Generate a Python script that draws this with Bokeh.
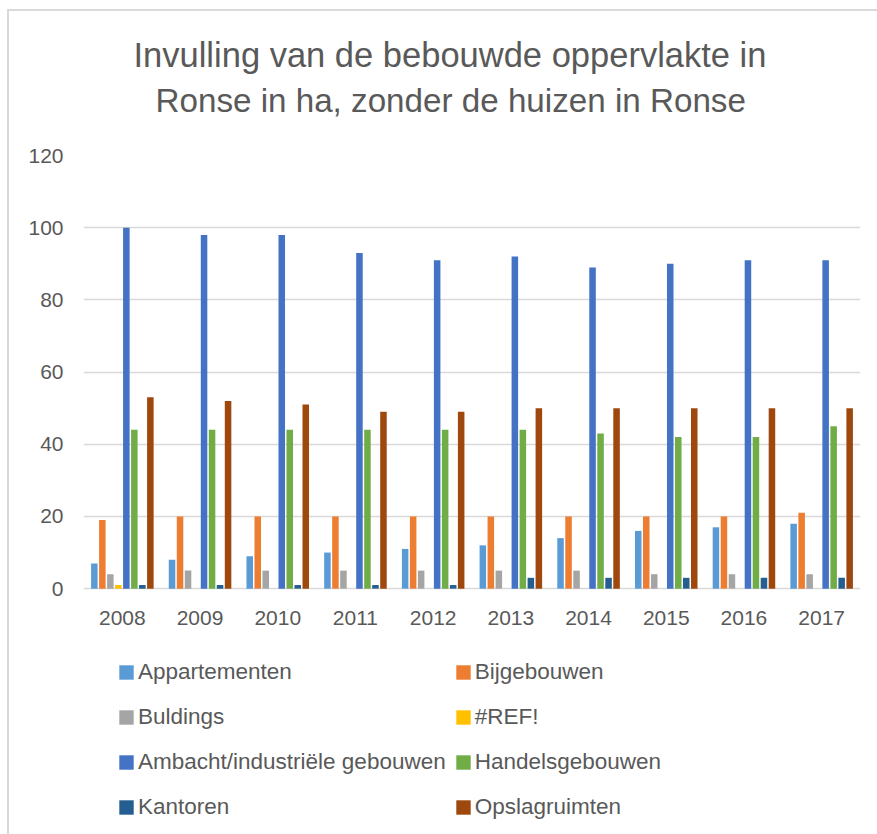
from bokeh.plotting import figure
from bokeh.models import ColumnDataSource, FactorRange, Range1d, Legend, LegendItem, Title, FixedTicker
from bokeh.transform import dodge
from bokeh.embed import file_html
from bokeh.resources import INLINE

years = ["2008", "2009", "2010", "2011", "2012", "2013", "2014", "2015", "2016", "2017"]
appartementen = [7, 8, 9, 10, 11, 12, 14, 16, 17, 18]
bijgebouwen = [19, 20, 20, 20, 20, 20, 20, 20, 20, 21]
buldings = [4, 5, 5, 5, 5, 5, 5, 4, 4, 4]
ref_err = [1, 0, 0, 0, 0, 0, 0, 0, 0, 0]
ambacht = [100, 98, 98, 93, 91, 92, 89, 90, 91, 91]
handels = [44, 44, 44, 44, 44, 44, 43, 42, 42, 45]
kantoren = [1, 1, 1, 1, 1, 3, 3, 3, 3, 3]
opslag = [53, 52, 51, 49, 49, 50, 50, 50, 50, 50]

series_names = ["Appartementen", "Bijgebouwen", "Buldings", "#REF!",
                "Ambacht/industriële gebouwen", "Handelsgebouwen", "Kantoren", "Opslagruimten"]
series_keys = ["app", "bij", "bul", "ref", "amb", "han", "kan", "ops"]
series_values = [appartementen, bijgebouwen, buldings, ref_err, ambacht, handels, kantoren, opslag]
colors = ["#5B9BD5", "#ED7D31", "#A5A5A5", "#FFC000", "#4472C4", "#70AD47", "#255E91", "#9E480E"]
y_ticks = [0, 20, 40, 60, 80, 100, 120]

data = {"year": years}
for k, v in zip(series_keys, series_values):
    data[k] = v
source = ColumnDataSource(data)

FONT = "Liberation Sans"
GREY = "#595959"

# the frame extends below 0 so that the legend (drawn inside it) is not clipped
p = figure(frame_width=777, frame_height=675, x_range=FactorRange(*years, range_padding=0),
           y_range=Range1d(-67, 120), output_backend="svg", toolbar_location=None,
           min_border_left=74, min_border_right=17, min_border_top=144, min_border_bottom=4)
p.x_range.range_padding = 0
p.outline_line_color = None
p.background_fill_color = "white"
p.border_fill_color = "white"
p.styles = {"margin-left": "7px", "margin-top": "9px",
            "border-left": "2px solid #d9d9d9", "border-top": "2px solid #d9d9d9"}

pitch = 0.103
renderers = []
for i, (k, c) in enumerate(zip(series_keys, colors)):
    off = (i - 3.5) * pitch
    r = p.vbar(x=dodge("year", off, range=p.x_range), top=k, width=0.084,
               source=source, fill_color=c, line_color=None)
    renderers.append(r)

# grid & axes
p.xgrid.grid_line_color = None
p.ygrid.grid_line_color = "#d9d9d9"
p.ygrid.grid_line_width = 1.5
p.yaxis.ticker = FixedTicker(ticks=y_ticks)
p.xaxis.fixed_location = 0
for ax in (p.xaxis[0], p.yaxis[0]):
    ax.axis_line_color = None
    ax.major_tick_line_color = None
    ax.minor_tick_line_color = None
    ax.major_tick_out = 0
    ax.major_tick_in = 0
    ax.major_label_text_font = FONT
    ax.major_label_text_font_size = "21px"
    ax.major_label_text_color = GREY
p.yaxis.major_label_standoff = 20
p.xaxis.major_label_standoff = 22

# title (two lines)
t2 = Title(text="Ronse in ha, zonder de huizen in Ronse", align="left", offset=72,
           text_font=FONT, text_font_size="33.2px", text_font_style="normal",
           text_color=GREY, standoff=74)
t1 = Title(text="Invulling van de bebouwde oppervlakte in", align="left", offset=50,
           text_font=FONT, text_font_size="34.5px", text_font_style="normal",
           text_color=GREY, standoff=-62)
p.add_layout(t2, "above")
p.add_layout(t1, "above")

# legend: two columns, column-major order
order = [0, 2, 4, 6, 1, 3, 5, 7]
items = [LegendItem(label=series_names[i], renderers=[renderers[i]]) for i in order]
legend = Legend(items=items, location=(34, 5), orientation="vertical", ncols=2,
                label_text_font=FONT, label_text_font_size="22.5px", label_text_color=GREY,
                glyph_width=18, glyph_height=18, label_standoff=3, spacing=8,
                padding=0, margin=0, border_line_color=None, background_fill_alpha=0,
                label_height=37)
p.add_layout(legend, "center")

open("out.html", "w").write(file_html(p, INLINE))
